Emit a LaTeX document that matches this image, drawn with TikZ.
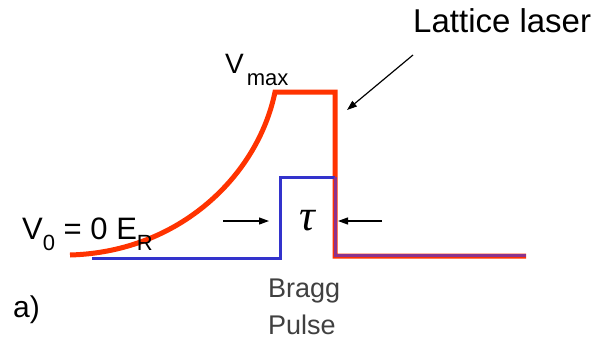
\documentclass[tikz,border=0pt]{standalone}
\usepackage{fontspec}
\setmainfont{Liberation Sans}
\newfontfamily\taufont{Liberation Serif}
\usetikzlibrary{arrows.meta}
\definecolor{laser}{RGB}{255,51,0}
\definecolor{bragg}{RGB}{51,51,204}
\definecolor{overlap}{RGB}{140,50,140}
\definecolor{graytext}{RGB}{64,64,64}
\begin{document}
\begin{tikzpicture}[x=1pt,y=-1pt,
  txt/.style={inner sep=0pt, anchor=base west},
  arr/.style={line width=1.2pt, -{Triangle[length=10pt,width=7pt]}},
  laserline/.style={laser, line width=5pt, line join=miter},
  braggline/.style={bragg, line width=3pt, line join=miter}]
\useasboundingbox (0,0) rectangle (599,343);
\fill[white] (0,0) rectangle (599,343);
% curves
\draw[laserline] (70,255) .. controls (180,252) and (258,175) .. (275,92) -- (335,92) -- (335,256) -- (526,256);
\draw[braggline] (92,258) -- (280,258) -- (280,177) -- (335,177);
\draw[braggline, overlap] (335,177) -- (335,255) -- (526,255);
% labels
\node[txt, font=\fontsize{33}{33}\selectfont] (lattice) at (413,32) {Lattice laser};
\node[txt, font=\fontsize{28}{28}\selectfont] (vmax) at (225,73) {V\kern3pt\raisebox{-12pt}{\fontsize{22}{22}\selectfont max}};
\node[txt, font=\fontsize{31}{31}\selectfont] (vzero) at (22,239) {V\raisebox{-11pt}{\fontsize{22}{22}\selectfont 0} = 0 E\raisebox{-11pt}{\fontsize{22}{22}\selectfont R}};
\node[inner sep=0pt, anchor=base, font=\taufont\itshape\fontsize{44}{44}\selectfont] (tau) at (307,230) {τ};
\node[txt, font=\fontsize{27}{27}\selectfont, text=graytext] (bragg1) at (268,297) {Bragg};
\node[txt, font=\fontsize{27}{27}\selectfont, text=graytext] (bragg2) at (268,334) {Pulse};
\node[txt, font=\fontsize{30}{30}\selectfont] (alabel) at (13,317) {a)};
% arrows
\coordinate (tl) at (223,221); \coordinate (tlend) at (269,221);
\coordinate (tr) at (382,221); \coordinate (trend) at (338,221);
\coordinate (lstart) at (413,55); \coordinate (lend) at (347,110);
\draw[arr] (tl) -- (tlend);
\draw[arr] (tr) -- (trend);
\draw[arr] (lstart) -- (lend);
\end{tikzpicture}
\end{document}
